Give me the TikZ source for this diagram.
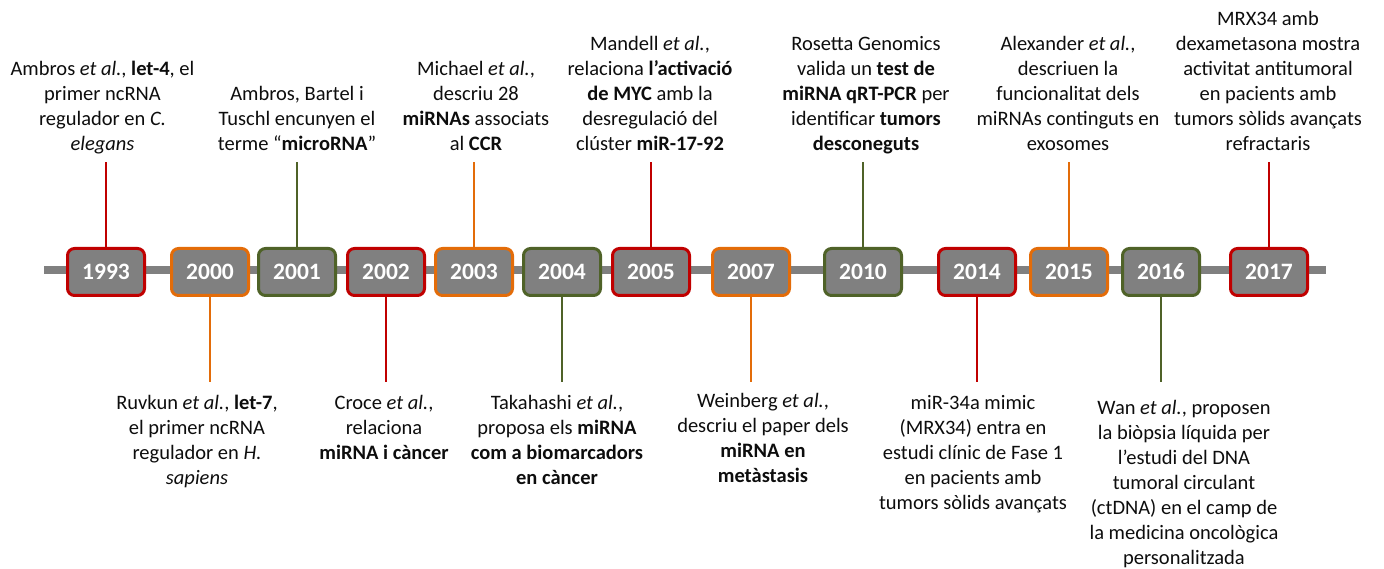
\documentclass[tikz,border=0pt]{standalone}
\usepackage{fontspec}
\setmainfont{Carlito}
\definecolor{tlred}{HTML}{C00000}
\definecolor{tlorange}{HTML}{E36C09}
\definecolor{tlgreen}{HTML}{4F6228}
\definecolor{boxgray}{HTML}{808080}
\definecolor{bargray}{HTML}{808080}
\definecolor{txt}{HTML}{0D0D0D}
\newcommand{\descfont}{\fontsize{20.5}{25}\selectfont}
\newcommand{\yearfont}{\fontsize{23.5}{28}\selectfont\bfseries}
\tikzset{
  yearbox/.style={draw=#1, line width=3pt, fill=boxgray, rounded corners=7pt,
    minimum width=77pt, minimum height=47pt, text=white, font=\yearfont, inner sep=0pt},
  toptext/.style={anchor=south, align=center, inner sep=0pt, font=\descfont, text=txt},
  bottext/.style={anchor=north, align=center, inner sep=0pt, font=\descfont, text=txt},
  link/.style={draw=#1, line width=2pt},
  bar/.style={draw=bargray, line width=8pt}
}
\begin{document}
\begin{tikzpicture}[x=1pt,y=-1pt]
\useasboundingbox (0,0) rectangle (1384,569);
% timeline bar
\coordinate (barL) at (44,270);
\coordinate (barR) at (1326,270);
\draw[bar] (barL) -- (barR);

% year boxes
\node[yearbox=tlred]    (y1993) at (106,272) {1993};
\node[yearbox=tlorange] (y2000) at (210,272) {2000};
\node[yearbox=tlgreen]  (y2001) at (297,272) {2001};
\node[yearbox=tlred]    (y2002) at (386,272) {2002};
\node[yearbox=tlorange] (y2003) at (474,272) {2003};
\node[yearbox=tlgreen]  (y2004) at (562,272) {2004};
\node[yearbox=tlred]    (y2005) at (651,272) {2005};
\node[yearbox=tlorange] (y2007) at (751,272) {2007};
\node[yearbox=tlgreen]  (y2010) at (863,272) {2010};
\node[yearbox=tlred]    (y2014) at (977,272) {2014};
\node[yearbox=tlorange] (y2015) at (1069,272) {2015};
\node[yearbox=tlgreen]  (y2016) at (1161,272) {2016};
\node[yearbox=tlred]    (y2017) at (1269,272) {2017};

% connector ends
\coordinate (e1993) at (106,162);
\coordinate (e2001) at (297,162);
\coordinate (e2003) at (474,162);
\coordinate (e2005) at (651,162);
\coordinate (e2010) at (863,162);
\coordinate (e2015) at (1069,162);
\coordinate (e2017) at (1269,162);
\coordinate (e2000) at (210,382);
\coordinate (e2002) at (386,382);
\coordinate (e2004) at (562,382);
\coordinate (e2007) at (751,382);
\coordinate (e2014) at (977,382);
\coordinate (e2016) at (1161,382);

\draw[link=tlred]    (y1993.north) -- (e1993);
\draw[link=tlgreen]  (y2001.north) -- (e2001);
\draw[link=tlorange] (y2003.north) -- (e2003);
\draw[link=tlred]    (y2005.north) -- (e2005);
\draw[link=tlgreen]  (y2010.north) -- (e2010);
\draw[link=tlorange] (y2015.north) -- (e2015);
\draw[link=tlred]    (y2017.north) -- (e2017);
\draw[link=tlorange] (y2000.south) -- (e2000);
\draw[link=tlred]    (y2002.south) -- (e2002);
\draw[link=tlgreen]  (y2004.south) -- (e2004);
\draw[link=tlorange] (y2007.south) -- (e2007);
\draw[link=tlred]    (y2014.south) -- (e2014);
\draw[link=tlgreen]  (y2016.south) -- (e2016);

% top texts
\node[toptext] (t1993) at (102.5,158) {Ambros \textit{et al.}, \textbf{let-4}, el\\primer ncRNA\\regulador en \textit{C.}\\\textit{elegans}\strut};
\node[toptext] (t2001) at (297,158) {Ambros, Bartel i\\Tuschl encunyen el\\terme “\textbf{microRNA}”\strut};
\node[toptext] (t2003) at (476,158) {Michael \textit{et al.},\\descriu 28\\\textbf{miRNAs} associats\\al \textbf{CCR}\strut};
\node[toptext] (t2005) at (650,158) {Mandell \textit{et al.},\\relaciona \textbf{l’activació}\\\textbf{de MYC} amb la\\desregulació del\\clúster \textbf{miR-17-92}\strut};
\node[toptext] (t2010) at (866,158) {Rosetta Genomics\\valida un \textbf{test de}\\\textbf{miRNA qRT-PCR} per\\identificar \textbf{tumors}\\\textbf{desconeguts}\strut};
\node[toptext] (t2015) at (1068,158) {Alexander \textit{et al.},\\descriuen la\\funcionalitat dels\\miRNAs continguts en\\exosomes\strut};
\node[toptext] (t2017) at (1268,158) {MRX34 amb\\dexametasona mostra\\activitat antitumoral\\en pacients amb\\tumors sòlids avançats\\refractaris\strut};

% bottom texts
\node[bottext] (t2000) at (197,392) {\strut Ruvkun \textit{et al.}, \textbf{let-7},\\el primer ncRNA\\regulador en \textit{H.}\\\textit{sapiens}};
\node[bottext] (t2002) at (384,392) {\strut Croce \textit{et al.},\\relaciona\\\textbf{miRNA i càncer}};
\node[bottext] (t2004) at (557,392) {\strut Takahashi \textit{et al.},\\proposa els \textbf{miRNA}\\\textbf{com a biomarcadors}\\\textbf{en càncer}};
\node[bottext] (t2007) at (763,390) {\strut Weinberg \textit{et al.},\\descriu el paper dels\\\textbf{miRNA en}\\\textbf{metàstasis}};
\node[bottext] (t2014) at (973,392) {\strut miR-34a mimic\\(MRX34) entra en\\estudi clínic de Fase 1\\en pacients amb\\tumors sòlids avançats};
\node[bottext] (t2016) at (1184,397) {\strut Wan \textit{et al.}, proposen\\la biòpsia líquida per\\l’estudi del DNA\\tumoral circulant\\(ctDNA) en el camp de\\la medicina oncològica\\personalitzada};
\end{tikzpicture}
\end{document}
